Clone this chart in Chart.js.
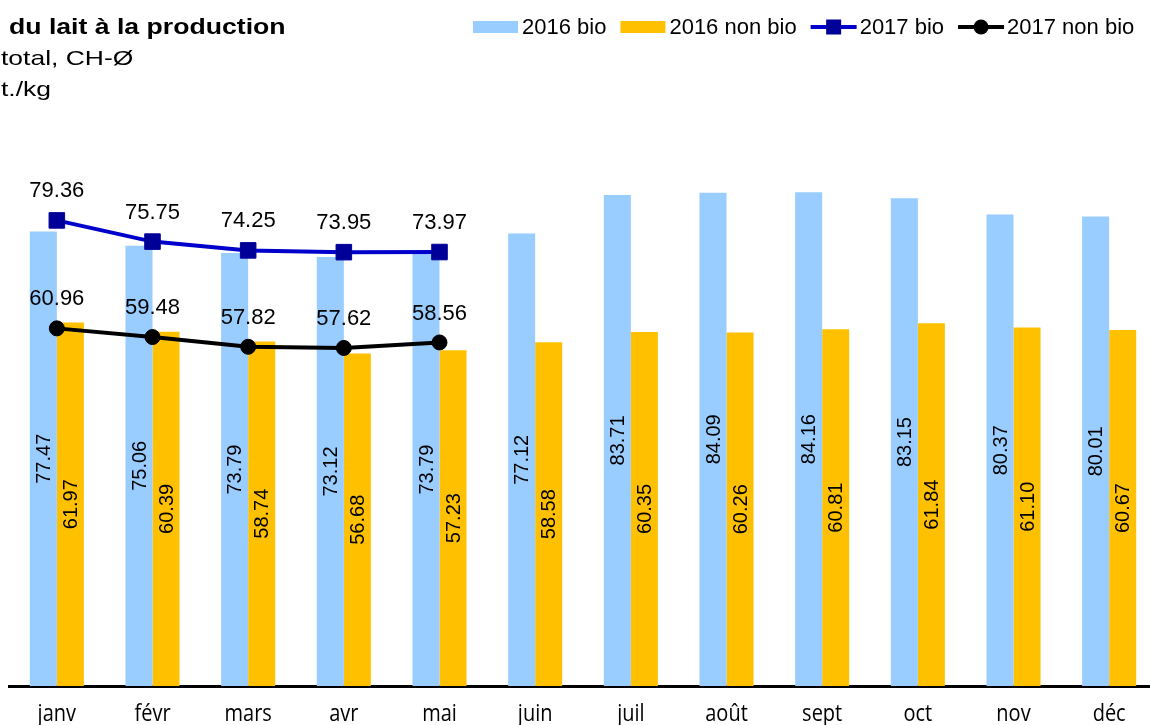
<!DOCTYPE html>
<html>
<head>
<meta charset="utf-8">
<script src="https://cdn.jsdelivr.net/npm/chart.js@4/dist/chart.umd.min.js"></script>
<style>
  html, body { margin: 0; padding: 0; background: #fff; overflow: hidden; }
  #wrap { position: relative; width: 1158px; height: 725px; }
  #chart { display: block; }
  #titre { position: absolute; left: 9px; top: 11px; font-family: "Liberation Sans", Arial, sans-serif; color: #000; z-index: 2; }
  #titre div { white-space: nowrap; line-height: 31px; transform-origin: left center; }
  #titre .t1 { font-size: 22px; font-weight: bold; transform: scaleX(1.21); }
  #titre .t2 { font-size: 21px; transform: scaleX(1.26); margin-left: -8px; }
</style>
</head>
<body>
<div id="wrap">
  <div id="titre">
    <div class="t1">du lait à la production</div>
    <div class="t2">total, CH-Ø</div>
    <div class="t2">t./kg</div>
  </div>
  <canvas id="chart" width="1158" height="725"></canvas>
</div>
<script>
// valeurs (ct./kg)
const mois = ['janv', 'févr', 'mars', 'avr', 'mai', 'juin', 'juil', 'août', 'sept', 'oct', 'nov', 'déc'];
const bio2016 = [77.47, 75.06, 73.79, 73.12, 73.79, 77.12, 83.71, 84.09, 84.16, 83.15, 80.37, 80.01];
const nonBio2016 = [61.97, 60.39, 58.74, 56.68, 57.23, 58.58, 60.35, 60.26, 60.81, 61.84, 61.10, 60.67];
const bio2017 = [79.36, 75.75, 74.25, 73.95, 73.97];
const nonBio2017 = [60.96, 59.48, 57.82, 57.62, 58.56];

const BLEU_CLAIR = '#99CCFF';
const JAUNE = '#FFC000';
const BLEU_LIGNE = '#0000CC';
const BLEU_MARQUE = '#000099';

// étiquettes des barres (verticales) et des lignes (au-dessus)
const etiquettes = {
    id: 'etiquettes',
    afterDatasetsDraw(chart) {
        const ctx = chart.ctx;
        chart.data.datasets.forEach((ds, i) => {
            const meta = chart.getDatasetMeta(i);
            meta.data.forEach((el, j) => {
                const v = ds.data[j];
                if (v == null) return;
                ctx.save();
                ctx.fillStyle = '#000';
                ctx.textAlign = 'center';
                ctx.textBaseline = 'middle';
                if (ds.type === 'bar') {
                    ctx.font = '20px "Liberation Sans", Arial, sans-serif';
                    ctx.translate(el.x, (el.y + el.base) / 2);
                    ctx.rotate(-Math.PI / 2);
                    ctx.fillText(v.toFixed(2), 0, 1);
                } else {
                    ctx.font = '22px "Liberation Sans", Arial, sans-serif';
                    ctx.fillText(v.toFixed(2), el.x, el.y - 29);
                }
                ctx.restore();
            });
        });
    }
};

// libellés des mois, un peu étirés en hauteur comme l'original
const moisAxe = {
    id: 'moisAxe',
    afterDraw(chart) {
        const ctx = chart.ctx;
        const x = chart.scales.x;
        ctx.save();
        ctx.fillStyle = '#000';
        ctx.textAlign = 'center';
        ctx.textBaseline = 'alphabetic';
        ctx.font = '20px "Open Sans", sans-serif';
        mois.forEach((m, i) => {
            ctx.save();
            ctx.translate(x.getPixelForValue(i), 721);
            ctx.scale(1, 1.2);
            ctx.fillText(m, 0, 0);
            ctx.restore();
        });
        ctx.restore();
    }
};

// légende en haut à droite
const legende = {
    id: 'legende',
    afterDraw(chart) {
        const ctx = chart.ctx;
        const y = 27;
        let x = 473;
        ctx.save();
        ctx.font = '22px "Liberation Sans", Arial, sans-serif';
        ctx.textBaseline = 'middle';
        chart.data.datasets.forEach(ds => {
            if (ds.type === 'bar') {
                ctx.fillStyle = ds.backgroundColor;
                ctx.fillRect(x, y - 6, 45, 12);
            } else {
                ctx.strokeStyle = ds.borderColor;
                ctx.lineWidth = 4;
                ctx.beginPath();
                ctx.moveTo(x, y);
                ctx.lineTo(x + 46, y);
                ctx.stroke();
                ctx.fillStyle = ds.pointBackgroundColor;
                if (ds.pointStyle === 'rect') {
                    ctx.fillRect(x + 23 - 7.5, y - 7.5, 15, 15);
                } else {
                    ctx.beginPath();
                    ctx.arc(x + 23, y, 7.5, 0, Math.PI * 2);
                    ctx.fill();
                }
            }
            x += 49;
            ctx.fillStyle = '#000';
            ctx.fillText(ds.label, x, y + 1);
            x += ctx.measureText(ds.label).width + 14;
        });
        ctx.restore();
    }
};

new Chart(document.getElementById('chart'), {
    data: {
        labels: mois,
        datasets: [
            {
                type: 'bar',
                label: '2016 bio',
                data: bio2016,
                backgroundColor: BLEU_CLAIR,
                categoryPercentage: 0.565,
                barPercentage: 1,
                order: 1
            },
            {
                type: 'bar',
                label: '2016 non bio',
                data: nonBio2016,
                backgroundColor: JAUNE,
                categoryPercentage: 0.565,
                barPercentage: 1,
                order: 1
            },
            {
                type: 'line',
                label: '2017 bio',
                data: bio2017,
                borderColor: BLEU_LIGNE,
                borderWidth: 4,
                pointStyle: 'rect',
                pointRadius: 11,
                pointBackgroundColor: BLEU_MARQUE,
                pointBorderColor: BLEU_MARQUE,
                pointBorderWidth: 1,
                tension: 0,
                order: 0
            },
            {
                type: 'line',
                label: '2017 non bio',
                data: nonBio2017,
                borderColor: '#000',
                borderWidth: 4,
                pointStyle: 'circle',
                pointRadius: 7.5,
                pointBackgroundColor: '#000',
                pointBorderColor: '#000',
                pointBorderWidth: 1,
                tension: 0,
                order: 0
            }
        ]
    },
    options: {
        responsive: false,
        animation: false,
        layout: { autoPadding: false, padding: { left: 9, right: 1, top: 158, bottom: 0 } },
        plugins: {
            legend: { display: false },
            tooltip: { enabled: false },
            title: { display: false }
        },
        scales: {
            x: {
                z: 1,
                grid: { display: false },
                border: { display: true, color: '#000', width: 3 },
                ticks: { display: false },
                afterFit(scale) { scale.height = 39; }
            },
            y: {
                display: false,
                min: 0,
                max: 90
            }
        }
    },
    plugins: [etiquettes, moisAxe, legende]
});
</script>
</body>
</html>
